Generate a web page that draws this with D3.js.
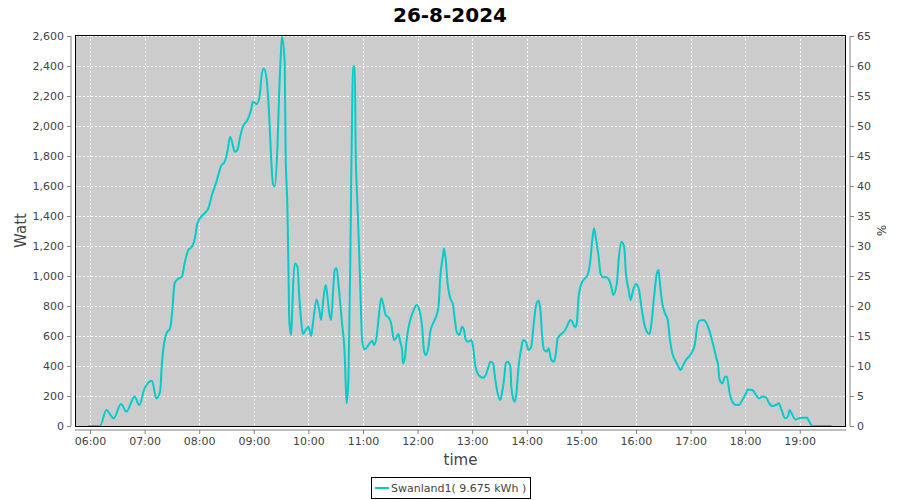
<!DOCTYPE html>
<html>
<head>
<meta charset="utf-8">
<script src="https://cdn.jsdelivr.net/npm/d3@7"></script>
<style>
  html, body { margin: 0; padding: 0; background: #ffffff; }
  svg { display: block; }
  text { font-family: "DejaVu Sans", sans-serif; }
</style>
</head>
<body>
<svg id="chart" width="900" height="500"></svg>
<script>
const title = "26-8-2024";
const seriesName = "Swanland1( 9.675 kWh )";
const times = ["05:58","06:11","06:18","06:26","06:34","06:40","06:49","06:54","07:00","07:08","07:13","07:17","07:19","07:24","07:28","07:30","07:33","07:36","07:41","07:44","07:48","07:52","07:55","07:58","08:03","08:06","08:10","08:14","08:19","08:24","08:28","08:31","08:34","08:36","08:39","08:42","08:45","08:48","08:53","08:57","08:59","09:03","09:06","09:09","09:11","09:14","09:17","09:19","09:21","09:23","09:26","09:28","09:30","09:31","09:34","09:35","09:37","09:38","09:39","09:41","09:42","09:43","09:45","09:48","09:50","09:52","09:54","09:57","10:00","10:03","10:05","10:09","10:12","10:14","10:16","10:19","10:21","10:23","10:25","10:27","10:29","10:31","10:33","10:35","10:37","10:40","10:41","10:42","10:44","10:46","10:47","10:48","10:49","10:51","10:52","10:54","10:56","10:58","10:59","11:02","11:06","11:10","11:12","11:15","11:17","11:20","11:22","11:25","11:28","11:31","11:34","11:36","11:39","11:41","11:43","11:44","11:46","11:48","11:51","11:55","11:59","12:02","12:05","12:07","12:09","12:12","12:14","12:17","12:20","12:23","12:25","12:28","12:29","12:31","12:33","12:36","12:39","12:41","12:43","12:46","12:49","12:51","12:53","12:56","12:59","13:01","13:03","13:06","13:09","13:12","13:15","13:18","13:20","13:23","13:25","13:28","13:31","13:32","13:35","13:37","13:39","13:42","13:43","13:45","13:47","13:49","13:51","13:54","13:56","13:59","14:02","14:05","14:07","14:10","14:13","14:15","14:17","14:19","14:22","14:24","14:27","14:30","14:32","14:34","14:38","14:41","14:44","14:48","14:50","14:53","14:55","14:57","15:01","15:04","15:07","15:10","15:12","15:14","15:16","15:19","15:21","15:24","15:28","15:30","15:33","15:35","15:39","15:41","15:44","15:47","15:49","15:52","15:54","15:57","16:00","16:03","16:06","16:09","16:12","16:15","16:17","16:20","16:23","16:25","16:26","16:29","16:32","16:35","16:37","16:40","16:44","16:47","16:49","16:52","16:55","16:59","17:02","17:05","17:07","17:10","17:14","17:18","17:21","17:25","17:29","17:30","17:32","17:35","17:38","17:40","17:43","17:46","17:50","17:53","17:57","18:01","18:03","18:08","18:12","18:15","18:19","18:23","18:26","18:30","18:34","18:37","18:40","18:44","18:47","18:49","18:52","18:55","18:59","19:03","19:08","19:10","19:14","19:35"];
const watts = [0,0,107,51,147,96,196,140,251,302,184,229,418,618,651,740,951,978,996,1084,1173,1196,1244,1351,1400,1418,1451,1540,1629,1733,1762,1829,1929,1896,1829,1840,1929,1996,2040,2107,2162,2147,2184,2351,2384,2318,2062,1796,1618,1596,1862,2240,2507,2596,2418,1818,1440,1084,707,607,729,907,1084,1062,862,707,613,640,662,600,684,844,773,707,818,940,862,751,707,884,1040,1051,951,818,684,462,284,151,307,1062,1596,2062,2396,2396,1840,1462,1129,729,573,511,540,569,540,596,707,851,818,740,724,684,573,584,613,560,507,418,451,573,684,762,807,773,662,507,473,529,629,684,724,796,996,1140,1184,1107,951,851,807,707,629,607,662,640,573,562,573,529,418,351,329,322,340,396,429,418,329,218,173,196,307,418,429,396,262,184,162,240,396,518,573,562,507,529,640,796,836,773,596,507,496,518,440,429,484,584,613,629,662,707,696,658,684,862,962,984,1007,1107,1240,1318,1251,1129,1018,991,991,978,929,873,951,1107,1229,1196,1018,907,840,907,947,918,796,684,629,613,684,862,1018,1040,973,818,751,707,596,484,429,391,373,407,440,467,496,551,651,702,707,680,629,540,440,418,307,284,329,329,218,162,140,140,173,218,244,240,207,184,196,191,156,133,140,151,107,51,62,107,73,44,51,55,55,35,0,0];
const hourTicks = ["06:00","07:00","08:00","09:00","10:00","11:00","12:00","13:00","14:00","15:00","16:00","17:00","18:00","19:00"];
const wattTicks = [0,200,400,600,800,1000,1200,1400,1600,1800,2000,2200,2400,2600];
const pctTicks = [0,5,10,15,20,25,30,35,40,45,50,55,60,65];

const parse = d3.timeParse("%H:%M:%S");
const toDate = s => parse(s.length === 5 ? s + ":00" : s);
const data = times.map((t, i) => ({ t: toDate(t), v: watts[i] }));

const L = 75, R = 846, T = 35, B = 426;
const svg = d3.select("#chart");

const x = d3.scaleTime().domain([toDate("05:43:30"), toDate("19:50:53")]).range([L, R]);
const y = d3.scaleLinear().domain([0, 2600]).range([B, T + 1]);
const yp = d3.scaleLinear().domain([0, 65]).range([B, T + 1]);

// plot background
svg.append("rect").attr("x", L).attr("y", T).attr("width", R - L).attr("height", B - T)
  .attr("fill", "#cccccc");

// grid lines
const grid = svg.append("g").attr("stroke", "#ffffff").attr("stroke-width", 1)
  .attr("stroke-dasharray", "2,2").attr("shape-rendering", "crispEdges");
grid.selectAll("line.h").data(wattTicks.slice(1)).join("line")
  .attr("x1", L).attr("x2", R)
  .attr("y1", d => Math.round(y(d)) + 0.5).attr("y2", d => Math.round(y(d)) + 0.5);
grid.selectAll("line.v").data(hourTicks).join("line")
  .attr("y1", T).attr("y2", B)
  .attr("x1", d => Math.round(x(toDate(d))) + 0.5).attr("x2", d => Math.round(x(toDate(d))) + 0.5);

// clip
svg.append("clipPath").attr("id", "clip").append("rect")
  .attr("x", L).attr("y", T).attr("width", R - L).attr("height", B - T + 1);

// line
const line = d3.line().x(d => x(d.t)).y(d => y(d.v)).curve(d3.curveMonotoneX);
svg.append("path").datum(data).attr("d", line)
  .attr("fill", "none").attr("stroke", "#00cccc").attr("stroke-width", 2)
  .attr("stroke-linejoin", "round").attr("clip-path", "url(#clip)");

// plot border
svg.append("rect").attr("x", L + 0.5).attr("y", T + 0.5).attr("width", R - L - 1).attr("height", B - T)
  .attr("fill", "none").attr("stroke", "#000000").attr("stroke-width", 1);

// axes
const axisColor = "#808080";
const leftAxis = d3.axisLeft(y).tickValues(wattTicks).tickFormat(d3.format(",")).tickSize(4).tickPadding(3);
const gl = svg.append("g").attr("transform", `translate(${L - 4},0)`).call(leftAxis);
const rightAxis = d3.axisRight(yp).tickValues(pctTicks).tickSize(4).tickPadding(3);
const gr = svg.append("g").attr("transform", `translate(${R + 4},0)`).call(rightAxis);
const bottomAxis = d3.axisBottom(x).tickValues(hourTicks.map(toDate)).tickFormat(d3.timeFormat("%H:%M")).tickSize(4).tickPadding(3);
const gb = svg.append("g").attr("transform", `translate(0,${B + 4})`).call(bottomAxis);
[gl, gr, gb].forEach(g => {
  g.select(".domain").attr("stroke", axisColor);
  g.selectAll(".tick line").attr("stroke", axisColor);
  g.selectAll(".tick text").attr("fill", "#444444").style("font-size", "11px")
    .style("font-family", "'DejaVu Sans', sans-serif");
});
gl.select(".domain").attr("d", `M0,${B}V${T + 1}`);
gr.select(".domain").attr("d", `M0,${B}V${T + 1}`);
gb.select(".domain").attr("d", `M${L},0H${R}`);

// titles
svg.append("text").attr("x", 450).attr("y", 22).attr("text-anchor", "middle")
  .style("font-size", "20px").style("font-weight", "bold").attr("fill", "#000").text(title);
svg.append("text").attr("transform", `translate(26,${(T + B) / 2}) rotate(-90)`)
  .attr("text-anchor", "middle").style("font-size", "15px").attr("fill", "#444").text("Watt");
svg.append("text").attr("x", (L + R) / 2).attr("y", 465).attr("text-anchor", "middle")
  .style("font-size", "15px").attr("fill", "#444").text("time");
svg.append("text").attr("transform", `translate(877,${(T + B) / 2}) rotate(90)`)
  .attr("text-anchor", "middle").style("font-size", "12px").attr("fill", "#444").text("%");

// legend
const lg = svg.append("g");
const lt = lg.append("text").attr("x", 0).attr("y", 0).style("font-size", "11px").attr("fill", "#444")
  .text(seriesName);
const tw = lt.node().getComputedTextLength();
const boxW = Math.round(tw + 24), boxX = Math.round(450 - boxW / 2);
lg.insert("rect", "text").attr("x", boxX + 0.5).attr("y", 477.5).attr("width", boxW).attr("height", 21)
  .attr("fill", "#fff").attr("stroke", "#000");
lg.append("line").attr("x1", boxX + 4).attr("x2", boxX + 18).attr("y1", 488).attr("y2", 488)
  .attr("stroke", "#00cccc").attr("stroke-width", 2);
lt.attr("x", boxX + 20).attr("y", 492);
</script>
</body>
</html>
